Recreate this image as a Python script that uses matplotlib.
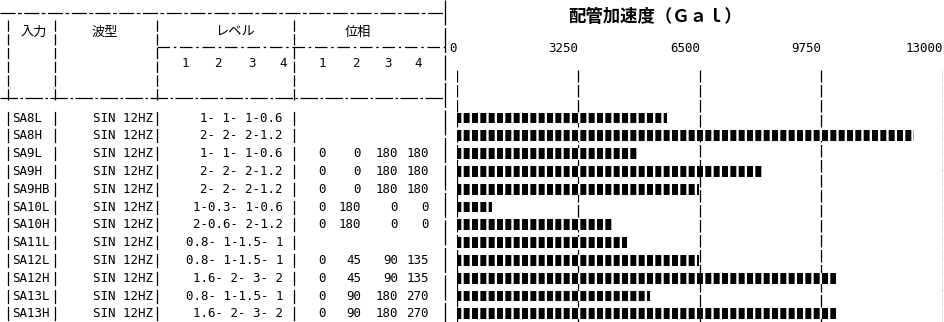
import matplotlib
matplotlib.use("Agg")
import matplotlib.pyplot as plt

plt.rcParams['font.family'] = ['Noto Sans CJK JP', 'DejaVu Sans']
plt.rcParams['hatch.linewidth'] = 1.7
plt.rcParams['hatch.color'] = 'white'

# ---- data ----
inputs = ["SA8L", "SA8H", "SA9L", "SA9H", "SA9HB", "SA10L", "SA10H",
          "SA11L", "SA12L", "SA12H", "SA13L", "SA13H"]
waves = ["SIN 12HZ"] * 12
levels = [[1, 1, 1, 0.6], [2, 2, 2, 1.2], [1, 1, 1, 0.6], [2, 2, 2, 1.2],
          [2, 2, 2, 1.2], [1, 0.3, 1, 0.6], [2, 0.6, 2, 1.2],
          [0.8, 1, 1.5, 1], [0.8, 1, 1.5, 1], [1.6, 2, 3, 2],
          [0.8, 1, 1.5, 1], [1.6, 2, 3, 2]]
phases = [None, None, [0, 0, 180, 180], [0, 0, 180, 180], [0, 0, 180, 180],
          [0, 180, 0, 0], [0, 180, 0, 0], None, [0, 45, 90, 135],
          [0, 45, 90, 135], [0, 90, 180, 270], [0, 90, 180, 270]]
accel = [5620, 12220, 4820, 8160, 6470, 940, 4150, 4550, 6470, 10140,
         5160, 10140]
xticks = [0, 3250, 6500, 9750, 13000]
title = "配管加速度（Ｇａｌ）"
headers = ["入力", "波型", "レベル", "位相"]
sub_labels = ["1", "2", "3", "4"]

W, H = 945, 322
fig = plt.figure(figsize=(W / 100, H / 100), dpi=100)
fig.patch.set_facecolor("white")

# ---- table (pixel coordinates) ----
tab = fig.add_axes([0, 0, 1, 1])
tab.set_xlim(0, W)
tab.set_ylim(H, 0)
tab.axis("off")

mono = dict(family="DejaVu Sans Mono", fontsize=9, color="black")
lw = 0.9
row0, dy = 118, 17.8

tab.plot([0, 445], [13, 13], color="black", lw=lw, ls=(0, (12, 2, 3, 2)))
tab.plot([0, 445], [98, 98], color="black", lw=lw, ls=(0, (14, 2, 2, 2)))
tab.plot([157, 445], [47, 47], color="black", lw=lw, ls=(0, (10, 3, 2, 3)))
for x in [8, 55, 157, 294]:
    tab.plot([x, x], [20, 100], color="black", lw=lw, ls=(0, (9, 2)))
tab.plot([445, 445], [0, 322], color="black", lw=lw, ls=(0, (20, 2)))

hx = [34, 105, 235, 358]
for x, t in zip(hx, headers):
    tab.text(x, 32, t, ha="center", va="center", fontsize=9.5)
for x, t in zip([185, 218, 252, 283], sub_labels):
    tab.text(x, 63, t, ha="center", va="center", **mono)
for x, t in zip([322, 356, 388, 418], sub_labels):
    tab.text(x, 63, t, ha="center", va="center", **mono)


def fmt(v):
    s = f"{v:g}"
    return s if "." in s else s.rjust(2)


for i, name in enumerate(inputs):
    y = row0 + i * dy
    tab.text(12, y, name, ha="left", va="center", **mono)
    tab.text(153, y, waves[i], ha="right", va="center", **mono)
    tab.text(283, y, "-".join(fmt(v) for v in levels[i]).strip(),
             ha="right", va="center", **mono)
    if phases[i] is not None:
        for x, v in zip([326, 361, 398, 429], phases[i]):
            tab.text(x, y, str(v), ha="right", va="center", **mono)
    for x in [8, 55, 157, 294]:
        tab.plot([x, x], [y - 6.5, y + 6.5], color="black", lw=lw)

# ---- bar chart ----
x0, x1 = 457, 943
ytop = 70
ax = fig.add_axes([x0 / W, 0, (x1 - x0) / W, (H - ytop) / H])
ax.patch.set_alpha(0)
ax.set_xlim(0, 13000)
ax.set_ylim((H - row0) / dy, (ytop - row0) / dy)
ax.barh(range(len(accel)), accel, height=0.6, color="black",
        hatch="||", linewidth=0, zorder=3)
ax.set_xticks(xticks)
ax.set_xticklabels([str(t) for t in xticks], ha="right",
                   family="DejaVu Sans Mono", fontsize=9)
ax.xaxis.tick_top()
ax.tick_params(axis="x", length=0, pad=11)
ax.set_yticks([])
for s in ax.spines.values():
    s.set_visible(False)
ax.grid(axis="x", color="black", lw=0.9, ls=(0, (10, 2)), zorder=1)

fig.text(655 / W, 1 - 17 / H, title, ha="center", va="center",
         fontsize=12.5, fontweight="bold")

fig.savefig("out.png", dpi=100, facecolor="white")
